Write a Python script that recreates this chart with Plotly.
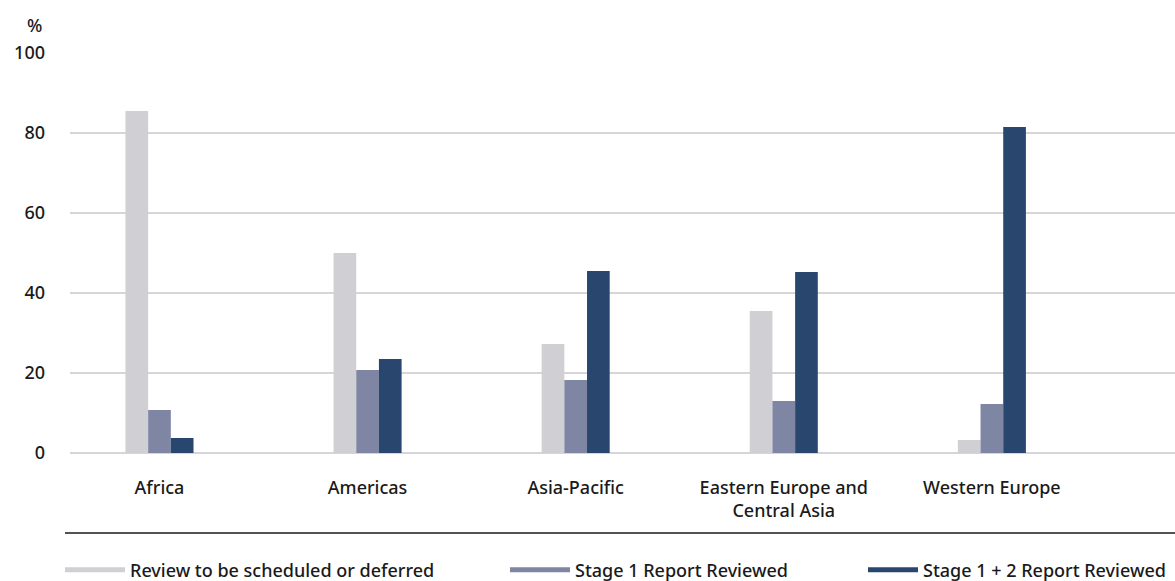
import plotly.graph_objects as go

categories = ["Africa", "Americas", "Asia-Pacific", "Eastern Europe and<br>Central Asia", "Western Europe"]
series_names = ["Review to be scheduled or deferred", "Stage 1 Report Reviewed", "Stage 1 + 2 Report Reviewed"]
review_deferred = [85.5, 50.0, 27.25, 35.5, 3.25]
stage1 = [10.75, 20.75, 18.25, 13.0, 12.25]
stage12 = [3.75, 23.5, 45.5, 45.25, 81.5]
y_ticks = [0, 20, 40, 60, 80, 100]
colors = ["#cfcfd4", "#7f86a4", "#28466e"]

FONT = "Noto Sans"
FS = 18
TXT = "#1a1a1a"

W, H = 1175, 581
L, R, T, B = 70, 0, 53, 128
pw, ph = W - L - R, H - T - B

def px_x(x):
    return (x - L) / pw

def px_y(y):
    return (H - B - y) / ph

fig = go.Figure()
for name, vals, col in zip(series_names, [review_deferred, stage1, stage12], colors):
    fig.add_trace(go.Bar(x=categories, y=vals, name=name, marker_color=col,
                         marker_line_width=0, showlegend=False))

legend_ids = ["legend", "legend2", "legend3"]
legend_x = [60, 505, 863]
legend_itemw = [60, 60, 50]
for name, col, lid in zip(series_names, colors, legend_ids):
    fig.add_trace(go.Scatter(x=[None], y=[None], mode="lines", name=name,
                             line=dict(color=col, width=5), showlegend=True, legend=lid))

leg_common = dict(orientation="h", xanchor="left", yanchor="middle",
                  font=dict(family=FONT, size=FS, color=TXT, weight=500),
                  bgcolor="rgba(0,0,0,0)")

fig.update_layout(
    width=W, height=H,
    margin=dict(l=L, r=R, t=T, b=B, autoexpand=False),
    paper_bgcolor="white", plot_bgcolor="white",
    font=dict(family=FONT, size=FS, color=TXT, weight=500),
    barmode="group",
    bargap=0.673, bargroupgap=0,
    xaxis=dict(type="category", range=[-0.43, 4.88], showgrid=False, showline=False,
               ticks="", zeroline=False, ticklabelstandoff=22,
               tickfont=dict(family=FONT, size=FS, color=TXT, weight=500)),
    yaxis=dict(range=[0, 100], tickvals=y_ticks, showgrid=True, gridcolor="#d6d6d6",
               gridwidth=2, zeroline=True, zerolinecolor="#d6d6d6", zerolinewidth=2,
               showline=False, ticks="", ticklabelstandoff=24,
               tickfont=dict(family=FONT, size=FS, color=TXT, weight=500)),
    legend=dict(x=px_x(legend_x[0]), y=px_y(570), itemwidth=legend_itemw[0], **leg_common),
    legend2=dict(x=px_x(legend_x[1]), y=px_y(570), itemwidth=legend_itemw[1], **leg_common),
    legend3=dict(x=px_x(legend_x[2]), y=px_y(570), itemwidth=legend_itemw[2], **leg_common),
    showlegend=True,
)

fig.add_shape(type="line", xref="paper", yref="paper",
              x0=px_x(65), x1=px_x(1175), y0=px_y(533), y1=px_y(533),
              line=dict(color=TXT, width=1.5))

fig.add_annotation(text="%", xref="paper", yref="paper", x=px_x(44), y=px_y(25),
                   xanchor="right", yanchor="middle", showarrow=False,
                   font=dict(family=FONT, size=FS, color=TXT, weight=500))

fig.write_html("out.html", config={"displayModeBar": False},
               post_script="document.body.style.margin='0';")
